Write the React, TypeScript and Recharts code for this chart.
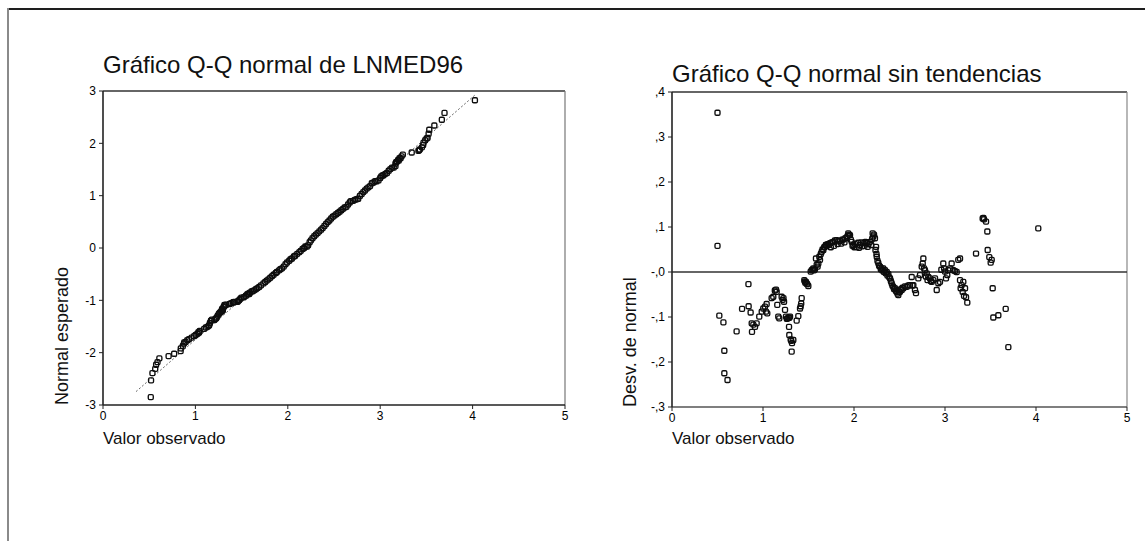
import React from 'react';
import { ScatterChart, Scatter, XAxis, YAxis, ReferenceLine } from 'recharts';

// ---------- ticks ----------
const xTicks = [0, 1, 2, 3, 4, 5];
const qqYTicks = [-3, -2, -1, 0, 1, 2, 3];
const detYTicks = [-0.3, -0.2, -0.1, 0, 0.1, 0.2, 0.3, 0.4];
const detYTickLabels = ['-,3', '-,2', '-,1', '-,0', ',1', ',2', ',3', ',4'];

// ---------- titles ----------
const leftTitle = 'Gráfico Q-Q normal de LNMED96';
const rightTitle = 'Gráfico Q-Q normal sin tendencias';
const leftYLabel = 'Normal esperado';
const rightYLabel = 'Desv. de normal';
const xLabel = 'Valor observado';

// ---------- Q-Q normal plot (observed value, expected normal) ----------
const qqObserved = [
  0.517, 0.52, 0.535, 0.565, 0.575, 0.59, 0.61, 0.71, 0.77, 0.84, 0.842, 0.864, 0.876, 0.879, 0.894, 0.912,
  0.93, 0.959, 0.986, 1.003, 1.022, 1.033, 1.04, 1.047, 1.095, 1.113, 1.13, 1.143, 1.15, 1.157, 1.168, 1.179,
  1.205, 1.216, 1.225, 1.231, 1.242, 1.253, 1.262, 1.271, 1.28, 1.289, 1.297, 1.286, 1.289, 1.304, 1.31, 1.319,
  1.333, 1.315, 1.37, 1.388, 1.407, 1.414, 1.42, 1.425, 1.454, 1.46, 1.473, 1.487, 1.498, 1.524, 1.546, 1.56,
  1.571, 1.582, 1.59, 1.608, 1.619, 1.635, 1.654, 1.672, 1.69, 1.71, 1.736, 1.755, 1.772, 1.79, 1.81, 1.83,
  1.846, 1.87, 1.882, 1.905, 1.92, 1.937, 1.956, 1.975, 1.992, 2.015, 2.03, 2.045, 2.066, 2.08, 2.102, 2.125,
  2.14, 2.16, 2.176, 2.19, 2.205, 2.22, 2.236, 2.25, 2.267, 2.286, 2.304, 2.322, 2.341, 2.36, 2.377, 2.396,
  2.414, 2.432, 2.45, 2.469, 2.487, 2.505, 2.524, 2.542, 2.56, 2.579, 2.597, 2.615, 2.634, 2.652, 2.67, 2.681,
  2.707, 2.725, 2.744, 2.762, 2.78, 2.799, 2.817, 2.835, 2.854, 2.872, 2.89, 2.909, 2.927, 2.945, 2.96, 2.981,
  3.0, 3.011, 3.025, 3.036, 3.055, 3.073, 3.092, 3.11, 3.128, 3.146, 3.165, 3.165, 3.172, 3.183, 3.194, 3.201,
  3.209, 3.22, 3.231, 3.245, 3.341, 3.414, 3.422, 3.429, 3.451, 3.465, 3.469, 3.487, 3.502, 3.513, 3.524, 3.531,
  3.586, 3.667, 3.696, 4.025,
];
const qqExpected = [
  -2.85, -2.53, -2.39, -2.31, -2.23, -2.18, -2.11, -2.065, -2.02, -1.97, -1.917, -1.869, -1.826, -1.803, -1.796, -1.763,
  -1.743, -1.713, -1.683, -1.663, -1.638, -1.61, -1.616, -1.584, -1.544, -1.519, -1.507, -1.489, -1.473, -1.434, -1.391, -1.37,
  -1.377, -1.353, -1.344, -1.326, -1.291, -1.259, -1.24, -1.228, -1.216, -1.201, -1.191, -1.185, -1.163, -1.13, -1.117, -1.098,
  -1.084, -1.086, -1.07, -1.052, -1.04, -1.034, -1.031, -1.035, -1.03, -1.018, -0.997, -0.97, -0.949, -0.941, -0.912, -0.888,
  -0.873, -0.88, -0.854, -0.829, -0.827, -0.809, -0.789, -0.766, -0.744, -0.715, -0.677, -0.649, -0.624, -0.599, -0.569, -0.536,
  -0.512, -0.478, -0.459, -0.427, -0.406, -0.388, -0.355, -0.311, -0.277, -0.244, -0.215, -0.201, -0.163, -0.148, -0.112, -0.079,
  -0.054, -0.02, 0.0, 0.028, 0.025, 0.051, 0.11, 0.147, 0.187, 0.224, 0.256, 0.284, 0.317, 0.35, 0.381, 0.42,
  0.459, 0.495, 0.525, 0.563, 0.598, 0.619, 0.644, 0.668, 0.692, 0.722, 0.747, 0.774, 0.785, 0.831, 0.87, 0.893,
  0.9, 0.921, 0.932, 0.941, 0.995, 1.031, 1.067, 1.098, 1.135, 1.159, 1.183, 1.238, 1.251, 1.276, 1.272, 1.291,
  1.338, 1.37, 1.385, 1.391, 1.416, 1.433, 1.477, 1.507, 1.537, 1.537, 1.564, 1.612, 1.641, 1.651, 1.683, 1.672,
  1.715, 1.715, 1.752, 1.785, 1.824, 1.859, 1.87, 1.884, 1.923, 1.967, 2.014, 2.058, 2.093, 2.104, 2.184, 2.26,
  2.34, 2.451, 2.581, 2.824,
];
const qqFitX = [0.36, 4.03];
const qqFitY = [-2.74, 2.93];

// ---------- detrended plot (observed value, deviation from normal) ----------
const detObserved = [
  0.5, 0.5, 0.52, 0.565, 0.575, 0.575, 0.61, 0.71, 0.77, 0.84, 0.842, 0.864, 0.876, 0.879, 0.894, 0.912,
  0.93, 0.959, 0.986, 1.003, 1.022, 1.033, 1.04, 1.047, 1.095, 1.113, 1.13, 1.143, 1.15, 1.157, 1.168, 1.179,
  1.205, 1.216, 1.225, 1.231, 1.242, 1.253, 1.262, 1.271, 1.28, 1.289, 1.297, 1.286, 1.289, 1.304, 1.31, 1.319,
  1.333, 1.315, 1.37, 1.388, 1.407, 1.414, 1.42, 1.425, 1.454, 1.46, 1.466, 1.473, 1.48, 1.487, 1.498, 1.524,
  1.535, 1.546, 1.553, 1.56, 1.571, 1.582, 1.59, 1.6, 1.608, 1.619, 1.626, 1.635, 1.645, 1.654, 1.663, 1.672,
  1.681, 1.69, 1.7, 1.71, 1.72, 1.736, 1.745, 1.755, 1.772, 1.78, 1.79, 1.81, 1.82, 1.83, 1.846, 1.86,
  1.87, 1.882, 1.895, 1.905, 1.92, 1.93, 1.937, 1.945, 1.956, 1.965, 1.975, 1.984, 1.992, 2.005, 2.015, 2.03,
  2.045, 2.055, 2.066, 2.08, 2.09, 2.102, 2.115, 2.125, 2.14, 2.15, 2.16, 2.176, 2.19, 2.2, 2.205, 2.212,
  2.22, 2.23, 2.236, 2.242, 2.247, 2.25, 2.258, 2.267, 2.276, 2.286, 2.295, 2.304, 2.313, 2.322, 2.33, 2.341,
  2.35, 2.36, 2.368, 2.377, 2.388, 2.396, 2.405, 2.414, 2.422, 2.432, 2.44, 2.45, 2.46, 2.469, 2.478, 2.487,
  2.496, 2.505, 2.515, 2.524, 2.533, 2.542, 2.56, 2.579, 2.597, 2.615, 2.634, 2.642, 2.652, 2.67, 2.681, 2.707,
  2.725, 2.744, 2.755, 2.762, 2.77, 2.78, 2.789, 2.799, 2.808, 2.817, 2.835, 2.845, 2.854, 2.872, 2.89, 2.909,
  2.927, 2.945, 2.96, 2.981, 2.99, 3.0, 3.011, 3.025, 3.036, 3.055, 3.073, 3.092, 3.11, 3.128, 3.146, 3.165,
  3.165, 3.172, 3.183, 3.194, 3.201, 3.209, 3.22, 3.231, 3.245, 3.341, 3.414, 3.422, 3.429, 3.451, 3.465, 3.469,
  3.487, 3.502, 3.513, 3.524, 3.531, 3.586, 3.667, 3.696, 4.025,
];
const detDeviation = [
  0.354, 0.058, -0.097, -0.112, -0.175, -0.225, -0.24, -0.132, -0.082, -0.027, -0.076, -0.09, -0.114, -0.133, -0.117, -0.122,
  -0.114, -0.099, -0.088, -0.081, -0.077, -0.088, -0.071, -0.092, -0.058, -0.055, -0.041, -0.039, -0.044, -0.073, -0.099, -0.103,
  -0.055, -0.062, -0.058, -0.066, -0.084, -0.099, -0.104, -0.103, -0.101, -0.102, -0.099, -0.122, -0.14, -0.15, -0.153, -0.158,
  -0.151, -0.177, -0.108, -0.098, -0.081, -0.076, -0.07, -0.058, -0.018, -0.021, -0.024, -0.022, -0.026, -0.027, -0.031, 0.001,
  0.004, 0.006, 0.008, 0.004, 0.006, 0.03, 0.016, 0.012, 0.019, 0.034, 0.027, 0.04, 0.045, 0.05, 0.049, 0.055,
  0.056, 0.06, 0.058, 0.062, 0.06, 0.064, 0.055, 0.066, 0.067, 0.058, 0.07, 0.071, 0.062, 0.068, 0.069, 0.063,
  0.072, 0.072, 0.066, 0.075, 0.077, 0.08, 0.086, 0.083, 0.082, 0.072, 0.067, 0.058, 0.06, 0.055, 0.062, 0.056,
  0.065, 0.054, 0.06, 0.066, 0.057, 0.064, 0.058, 0.067, 0.065, 0.056, 0.062, 0.067, 0.06, 0.074, 0.086, 0.079,
  0.083, 0.075, 0.049, 0.056, 0.04, 0.034, 0.025, 0.02, 0.014, 0.012, 0.006, 0.008, 0.003, 0.008, 0.0, 0.004,
  -0.003, 0.0, -0.008, -0.004, -0.012, -0.014, -0.02, -0.025, -0.03, -0.033, -0.038, -0.036, -0.042, -0.044, -0.048, -0.051,
  -0.045, -0.044, -0.038, -0.04, -0.035, -0.036, -0.032, -0.033, -0.03, -0.029, -0.011, -0.03, -0.029, -0.04, -0.047, -0.014,
  -0.007, 0.012, 0.019, 0.03, 0.008, 0.004, -0.01, -0.003, -0.018, -0.011, -0.014, -0.02, -0.022, -0.018, -0.014, -0.04,
  -0.025, -0.022, 0.005, 0.019, 0.008, 0.001, -0.014, -0.007, 0.004, 0.008, 0.019, 0.004, 0.002, 0.0, 0.027, 0.03,
  -0.018, -0.036, -0.029, -0.044, -0.022, -0.053, -0.036, -0.056, -0.068, 0.041, 0.119, 0.12, 0.117, 0.112, 0.09, 0.049,
  0.033, 0.021, 0.027, -0.036, -0.101, -0.096, -0.082, -0.167, 0.097,
];

const qqData = qqObserved.map((x, i) => ({ x, y: qqExpected[i] }));
const detData = detObserved.map((x, i) => ({ x, y: detDeviation[i] }));

const FONT = '"Liberation Sans", Arial, Helvetica, sans-serif';

const Marker = (props: any) => {
  const { cx, cy } = props;
  if (cx == null || cy == null || isNaN(cx) || isNaN(cy)) return null;
  return (
    <rect x={cx - 2.5} y={cy - 2.5} width={5} height={5} rx={1.3}
      fill="none" stroke="#0d0d0d" strokeWidth={1.35} />
  );
};

const tickStyle = { fontSize: 12, fill: '#000', fontFamily: FONT };

const detFormat = (v: number) => {
  const idx = detYTicks.findIndex((t) => Math.abs(t - v) < 1e-6);
  return idx >= 0 ? detYTickLabels[idx] : String(v);
};

export default function App() {
  return (
    <div style={{ position: 'absolute', left: 0, top: 0, width: 1145, height: 541, background: '#fff', overflow: 'hidden', fontFamily: FONT }}>
      {/* page frame */}
      <div style={{ position: 'absolute', left: 7, top: 8, width: 1138, height: 0, borderTop: '2px solid #1e1e1e' }} />
      <div style={{ position: 'absolute', left: 7, top: 8, width: 0, height: 533, borderLeft: '2px solid #8a8a8a' }} />

      {/* left chart */}
      <div style={{ position: 'absolute', left: 0, top: 0 }}>
        <ScatterChart width={600} height={460} margin={{ top: 91, right: 35, bottom: 25, left: 43 }}>
          <XAxis type="number" dataKey="x" domain={[0, 5]} ticks={xTicks} allowDataOverflow
            tick={tickStyle} tickSize={4} tickMargin={2} axisLine={{ stroke: '#222', strokeWidth: 1.6 }} tickLine={{ stroke: '#222' }} />
          <YAxis type="number" dataKey="y" domain={[-3, 3]} ticks={qqYTicks} allowDataOverflow
            tick={tickStyle} tickSize={4} tickMargin={3} axisLine={{ stroke: '#222', strokeWidth: 1.6 }} tickLine={{ stroke: '#222' }} />
          <ReferenceLine y={3} stroke="#333" strokeWidth={1.3} />
          <ReferenceLine x={5} stroke="#777" strokeWidth={1.2} />
          <ReferenceLine segment={[{ x: qqFitX[0], y: qqFitY[0] }, { x: qqFitX[1], y: qqFitY[1] }]}
            stroke="#333" strokeWidth={1} strokeDasharray="1.5 2.5" />
          <Scatter data={qqData} shape={Marker} isAnimationActive={false} />
        </ScatterChart>
      </div>

      {/* right chart */}
      <div style={{ position: 'absolute', left: 560, top: 0 }}>
        <ScatterChart width={600} height={460} margin={{ top: 92, right: 33, bottom: 23, left: 52 }}>
          <XAxis type="number" dataKey="x" domain={[0, 5]} ticks={xTicks} allowDataOverflow
            tick={tickStyle} tickSize={4} tickMargin={2} axisLine={{ stroke: '#555', strokeWidth: 1.6 }} tickLine={{ stroke: '#222' }} />
          <YAxis type="number" dataKey="y" domain={[-0.3, 0.4]} ticks={detYTicks} allowDataOverflow
            tickFormatter={detFormat}
            tick={tickStyle} tickSize={4} tickMargin={3} axisLine={{ stroke: '#222', strokeWidth: 1.6 }} tickLine={{ stroke: '#222' }} />
          <ReferenceLine y={0.4} stroke="#333" strokeWidth={1.3} />
          <ReferenceLine x={5} stroke="#888" strokeWidth={1.2} />
          <ReferenceLine y={0} stroke="#333" strokeWidth={1.3} />
          <Scatter data={detData} shape={Marker} isAnimationActive={false} />
        </ScatterChart>
      </div>

      {/* texts */}
      <svg width={1145} height={541} style={{ position: 'absolute', left: 0, top: 0, pointerEvents: 'none' }}>
        <text x={103} y={73} fontSize={24} fontFamily={FONT} fill="#111">{leftTitle}</text>
        <text x={672} y={82} fontSize={24} fontFamily={FONT} fill="#111">{rightTitle}</text>
        <text x={68} y={405} fontSize={18} fontFamily={FONT} fill="#111" transform="rotate(-90 68 405)">{leftYLabel}</text>
        <text x={636} y={407} fontSize={18} fontFamily={FONT} fill="#111" transform="rotate(-90 636 407)">{rightYLabel}</text>
        <text x={103} y={444} fontSize={17} fontFamily={FONT} fill="#111">{xLabel}</text>
        <text x={672} y={444} fontSize={17} fontFamily={FONT} fill="#111">{xLabel}</text>
      </svg>
    </div>
  );
}
